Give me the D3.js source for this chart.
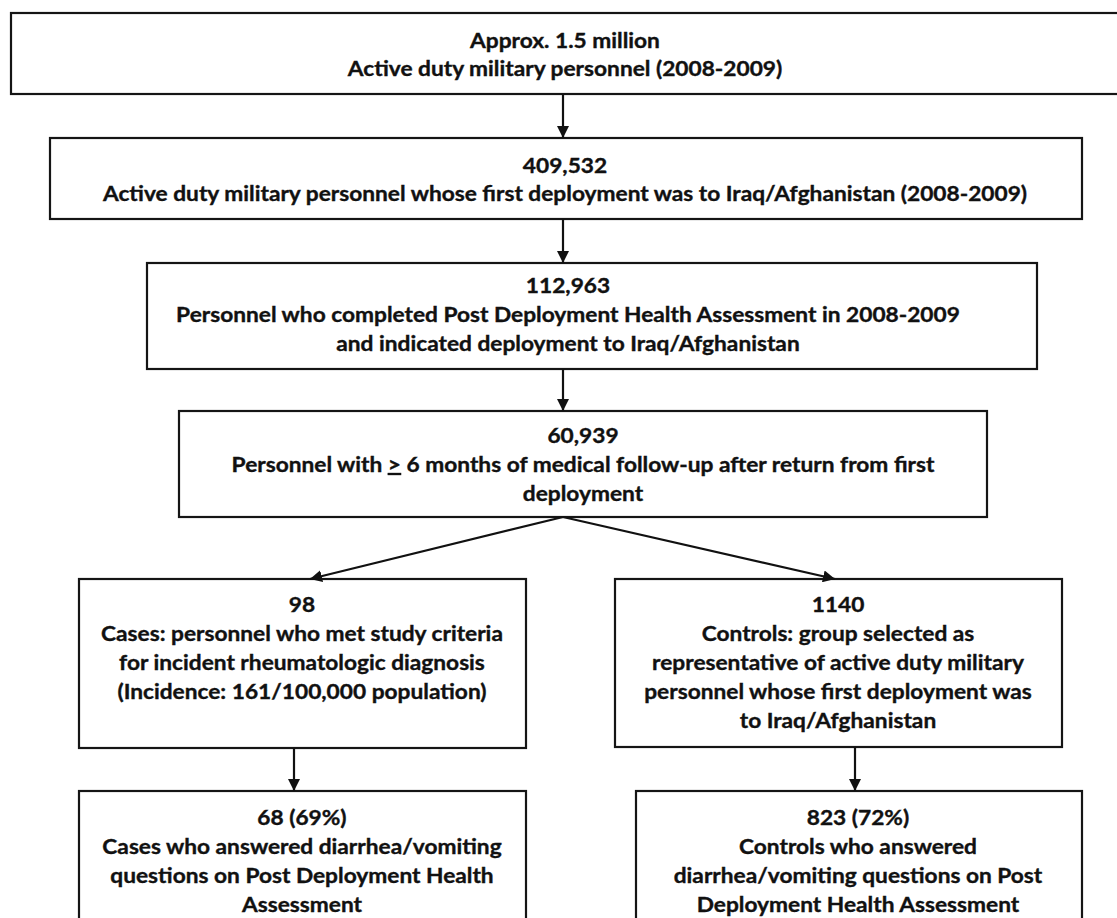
<!DOCTYPE html>
<html>
<head>
<meta charset="utf-8">
<script src="https://cdn.jsdelivr.net/npm/d3@7"></script>
<style>
  html, body { margin: 0; padding: 0; background: #fff; }
  svg { display: block; }
  text { font-family: Lato, "Open Sans", sans-serif; font-weight: 700; fill: #111; stroke: #111; stroke-width: 0.35px; }
</style>
</head>
<body>
<div id="chart"></div>
<script>
// ---- Data ----
const stepIds = ["all", "firstDeploy", "pdha", "followUp", "cases", "controls", "casesAnswered", "controlsAnswered"];
const counts = ["Approx. 1.5 million", "409,532", "112,963", "60,939", "98", "1140", "68 (69%)", "823 (72%)"];
const descriptions = [
  ["Active duty military personnel (2008-2009)"],
  ["Active duty military personnel whose first deployment was to Iraq/Afghanistan (2008-2009)"],
  ["Personnel who completed Post Deployment Health Assessment in 2008-2009", "and indicated deployment to Iraq/Afghanistan"],
  ["Personnel with |>| 6 months of medical follow-up after return from first", "deployment"],
  ["Cases: personnel who met study criteria", "for incident rheumatologic diagnosis", "(Incidence: 161/100,000 population)"],
  ["Controls: group selected as", "representative of active duty military", "personnel whose first deployment was", "to Iraq/Afghanistan"],
  ["Cases who answered diarrhea/vomiting", "questions on Post Deployment Health", "Assessment"],
  ["Controls who answered", "diarrhea/vomiting questions on Post", "Deployment Health Assessment"]
];
const links = [
  ["all", "firstDeploy"], ["firstDeploy", "pdha"], ["pdha", "followUp"],
  ["followUp", "cases"], ["followUp", "controls"],
  ["cases", "casesAnswered"], ["controls", "controlsAnswered"]
];

// ---- Layout (pixel geometry of the boxes) ----
const layout = {
  all:              { x0: 11,  x1: 1135, y0: 13,  y1: 94,  tx: 565, firstBase: 48,  lh: 28 },
  firstDeploy:      { x0: 50,  x1: 1082, y0: 138, y1: 219, tx: 565, firstBase: 173, lh: 28 },
  pdha:             { x0: 147, x1: 1037, y0: 263, y1: 369, tx: 568, firstBase: 293, lh: 29 },
  followUp:         { x0: 179, x1: 987,  y0: 411, y1: 517, tx: 583, firstBase: 443, lh: 29 },
  cases:            { x0: 79,  x1: 526,  y0: 579, y1: 748, tx: 302, firstBase: 612, lh: 29 },
  controls:         { x0: 615, x1: 1062, y0: 579, y1: 747, tx: 838, firstBase: 612, lh: 29 },
  casesAnswered:    { x0: 79,  x1: 526,  y0: 791, y1: 960, tx: 302, firstBase: 825, lh: 29 },
  controlsAnswered: { x0: 636, x1: 1082, y0: 791, y1: 960, tx: 858, firstBase: 825, lh: 29 }
};
const linkGeom = {
  "all>firstDeploy":       { x1: 563, y1: 94,  x2: 563, y2: 138 },
  "firstDeploy>pdha":      { x1: 563, y1: 219, x2: 563, y2: 263 },
  "pdha>followUp":         { x1: 563, y1: 369, x2: 563, y2: 411 },
  "followUp>cases":        { x1: 563, y1: 517, x2: 310, y2: 579 },
  "followUp>controls":     { x1: 563, y1: 517, x2: 835, y2: 579 },
  "cases>casesAnswered":   { x1: 294, y1: 748, x2: 294, y2: 791 },
  "controls>controlsAnswered": { x1: 855, y1: 747, x2: 855, y2: 791 }
};
const textStretch = 1.135;

const W = 1117, H = 918;
const svg = d3.select("#chart").append("svg").attr("width", W).attr("height", H);

svg.append("defs").append("marker")
  .attr("id", "arrow")
  .attr("viewBox", "0 0 12 12")
  .attr("refX", 12).attr("refY", 6)
  .attr("markerWidth", 12).attr("markerHeight", 12)
  .attr("markerUnits", "userSpaceOnUse")
  .attr("orient", "auto")
  .append("path").attr("d", "M0,0 L12,6 L0,12 Z").attr("fill", "#111");

const nodes = stepIds.map((id, i) => ({ id, count: counts[i], lines: descriptions[i], ...layout[id] }));

const g = svg.selectAll("g.node").data(nodes).join("g").attr("class", "node");
g.append("rect")
  .attr("x", d => d.x0).attr("y", d => d.y0)
  .attr("width", d => d.x1 - d.x0).attr("height", d => d.y1 - d.y0)
  .attr("fill", "#fff").attr("stroke", "#151515").attr("stroke-width", 2.2);

g.each(function(d) {
  const allLines = [d.count, ...d.lines];
  const sel = d3.select(this);
  allLines.forEach((line, k) => {
    const t = sel.append("text")
      .attr("x", d.tx).attr("y", d.firstBase + k * d.lh)
      .attr("text-anchor", "middle")
      .attr("font-size", 20);
    const parts = line.split("|");
    parts.forEach((p, j) => {
      const ts = t.append("tspan").text(p);
      if (j % 2 === 1) ts.style("text-decoration", "underline");
    });
    const w = t.node().getComputedTextLength();
    t.attr("textLength", w * textStretch).attr("lengthAdjust", "spacingAndGlyphs");
  });
});

svg.selectAll("line.link").data(links).join("line")
  .attr("class", "link")
  .each(function(l) {
    const geo = linkGeom[l[0] + ">" + l[1]];
    d3.select(this).attr("x1", geo.x1).attr("y1", geo.y1).attr("x2", geo.x2).attr("y2", geo.y2);
  })
  .attr("stroke", "#111").attr("stroke-width", 2.2)
  .attr("marker-end", "url(#arrow)");
</script>
</body>
</html>
